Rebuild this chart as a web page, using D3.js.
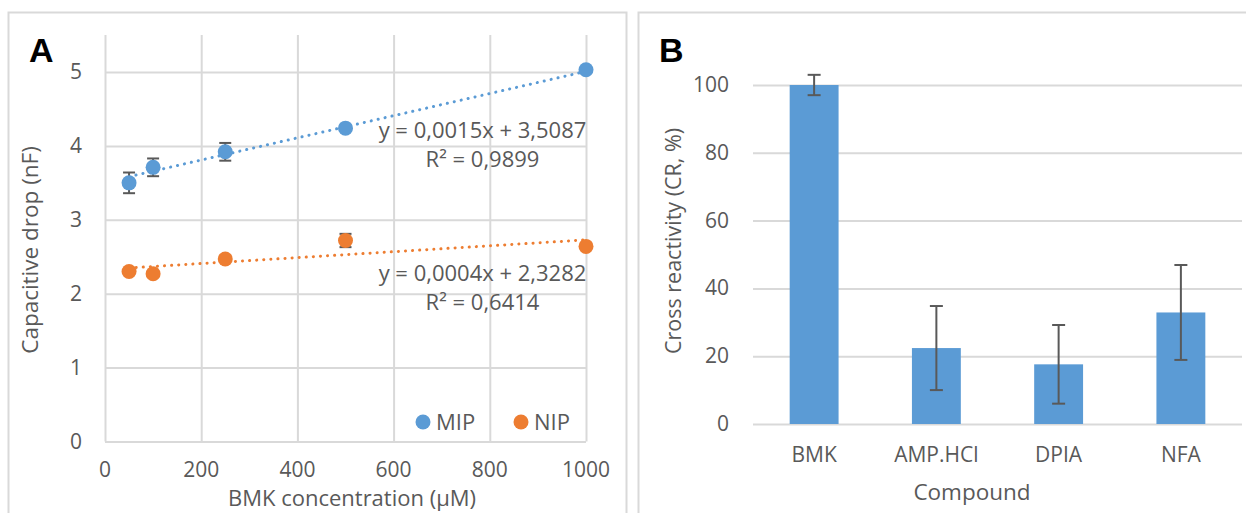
<!DOCTYPE html>
<html>
<head>
<meta charset="utf-8">
<script src="https://cdn.jsdelivr.net/npm/d3@7"></script>
<style>
  body { margin: 0; background: #fff; }
  text { font-family: "Open Sans", sans-serif; fill: #595959; }
</style>
</head>
<body>
<svg id="chart" width="1246" height="513"></svg>
<script>
// panel A: capacitive drop vs BMK concentration
const concentrations = [50, 100, 250, 500, 1000];
const mipValues = [3.50, 3.71, 3.92, 4.24, 5.03];
const mipErrors = [0.14, 0.12, 0.12, 0.03, 0.03];
const nipValues = [2.30, 2.27, 2.47, 2.72, 2.64];
const nipErrors = [0.03, 0.03, 0.03, 0.09, 0.03];
const mipFit = { slope: 0.0015, intercept: 3.5087, label: 'y = 0,0015x + 3,5087', r2: 'R² = 0,9899' };
const nipFit = { slope: 0.0004, intercept: 2.3282, label: 'y = 0,0004x + 2,3282', r2: 'R² = 0,6414' };
const xTicksA = [0, 200, 400, 600, 800, 1000];
const yTicksA = [0, 1, 2, 3, 4, 5];

// panel B: cross reactivity
const compounds = ['BMK', 'AMP.HCl', 'DPIA', 'NFA'];
const crossValues = [100, 22.4, 17.6, 32.9];
const crossErrors = [3, 12.4, 11.6, 14];
const yTicksB = [0, 20, 40, 60, 80, 100];

const BLUE = '#5B9BD5', ORANGE = '#ED7D31', GRID = '#D9D9D9', ERR = '#595959';
const TICK_FS = '21px', TITLE_FS = '22px';

const svg = d3.select('#chart');

// frames
svg.append('rect').attr('x', 8.5).attr('y', 12.5).attr('width', 618).attr('height', 520)
  .attr('fill', 'none').attr('stroke', GRID).attr('stroke-width', 2);
svg.append('rect').attr('x', 638.5).attr('y', 12.5).attr('width', 620).attr('height', 520)
  .attr('fill', 'none').attr('stroke', GRID).attr('stroke-width', 2);

// ---------- panel A ----------
const xA = d3.scaleLinear().domain([0, 1000]).range([105, 586]);
const yA = d3.scaleLinear().domain([0, 5]).range([441.5, 72]);
const topA = yA(5.5);

const gA = svg.append('g');

const xAxisA = gA.append('g').attr('transform', `translate(0,${topA})`)
  .call(d3.axisBottom(xA).tickValues(xTicksA).tickSize(yA(0) - topA).tickFormat(''));
xAxisA.selectAll('line').attr('stroke', GRID).attr('stroke-width', 2);
xAxisA.select('.domain').remove();

const yAxisA = gA.append('g').attr('transform', `translate(${xA(0)},0)`)
  .call(d3.axisRight(yA).tickValues(yTicksA).tickSize(xA(1000) - xA(0)).tickFormat(''));
yAxisA.selectAll('line').attr('stroke', GRID).attr('stroke-width', 2);
yAxisA.select('.domain').remove();

gA.selectAll('.ytA').data(yTicksA).enter().append('text')
  .attr('x', 82).attr('y', d => yA(d) + 7).attr('text-anchor', 'end')
  .style('font-size', TICK_FS).text(d => d);
gA.selectAll('.xtA').data(xTicksA).enter().append('text')
  .attr('x', d => xA(d)).attr('y', 476.5).attr('text-anchor', 'middle')
  .style('font-size', TICK_FS).text(d => d);

gA.append('text').attr('x', 352).attr('y', 506).attr('text-anchor', 'middle')
  .style('font-size', TITLE_FS).text('BMK concentration (µM)');
gA.append('text').attr('transform', 'translate(38,250) rotate(-90)').attr('text-anchor', 'middle')
  .style('font-size', '22.5px').text('Capacitive drop (nF)');

gA.append('text').attr('x', 29).attr('y', 62).style('font-family', 'Liberation Sans, Arial')
  .style('font-weight', 'bold').style('font-size', '34px').style('fill', '#000').text('A');

function drawSeries(values, errors, fit, color) {
  const g = gA.append('g');
  g.append('line')
    .attr('x1', xA(concentrations[0])).attr('y1', yA(fit.slope * concentrations[0] + fit.intercept))
    .attr('x2', xA(1000)).attr('y2', yA(fit.slope * 1000 + fit.intercept))
    .attr('stroke', color).attr('stroke-width', 3).attr('stroke-linecap', 'round')
    .attr('stroke-dasharray', '0.1 7');
  const pts = concentrations.map((c, i) => ({ x: c, y: values[i], e: errors[i] }));
  const eb = g.selectAll('.eb').data(pts).enter().append('g');
  eb.append('line').attr('x1', d => xA(d.x)).attr('x2', d => xA(d.x))
    .attr('y1', d => yA(d.y + d.e)).attr('y2', d => yA(d.y - d.e))
    .attr('stroke', ERR).attr('stroke-width', 2);
  [1, -1].forEach(s => {
    eb.append('line').attr('x1', d => xA(d.x) - 6).attr('x2', d => xA(d.x) + 6)
      .attr('y1', d => yA(d.y + s * d.e)).attr('y2', d => yA(d.y + s * d.e))
      .attr('stroke', ERR).attr('stroke-width', 2);
  });
  g.selectAll('circle').data(pts).enter().append('circle')
    .attr('cx', d => xA(d.x)).attr('cy', d => yA(d.y)).attr('r', 7.5).attr('fill', color);
}
drawSeries(mipValues, mipErrors, mipFit, BLUE);
drawSeries(nipValues, nipErrors, nipFit, ORANGE);

[[mipFit, 138], [nipFit, 281]].forEach(([fit, by]) => {
  gA.append('text').attr('x', 482.5).attr('y', by).attr('text-anchor', 'middle')
    .style('font-size', '22px').text(fit.label);
  gA.append('text').attr('x', 482.5).attr('y', by + 29).attr('text-anchor', 'middle')
    .style('font-size', '22px').text(fit.r2);
});

// legend
[['MIP', BLUE, 423], ['NIP', ORANGE, 521]].forEach(([name, color, cx]) => {
  gA.append('circle').attr('cx', cx).attr('cy', 422).attr('r', 7.5).attr('fill', color);
  gA.append('text').attr('x', cx + 13).attr('y', 429.5).style('font-size', '22px').text(name);
});

// ---------- panel B ----------
const xB = d3.scaleBand().domain(compounds).range([753, 1242]).paddingInner(0.6).paddingOuter(0.3);
const yB = d3.scaleLinear().domain([0, 100]).range([424, 85]);

const gB = svg.append('g');
const yAxisB = gB.append('g').attr('transform', 'translate(753,0)')
  .call(d3.axisRight(yB).tickValues(yTicksB).tickSize(1242 - 753).tickFormat(''));
yAxisB.selectAll('line').attr('stroke', GRID).attr('stroke-width', 2);
yAxisB.select('.domain').remove();

gB.selectAll('.ytB').data(yTicksB).enter().append('text')
  .attr('x', 729).attr('y', d => yB(d) + 7).attr('text-anchor', 'end')
  .style('font-size', TICK_FS).text(d => d);

const bars = compounds.map((c, i) => ({ c, v: crossValues[i], e: crossErrors[i] }));
gB.selectAll('.bar').data(bars).enter().append('rect')
  .attr('x', d => xB(d.c)).attr('width', xB.bandwidth())
  .attr('y', d => yB(d.v)).attr('height', d => yB(0) - yB(d.v))
  .attr('fill', BLUE);

const ebB = gB.selectAll('.ebB').data(bars).enter().append('g');
const cxB = d => xB(d.c) + xB.bandwidth() / 2;
ebB.append('line').attr('x1', cxB).attr('x2', cxB)
  .attr('y1', d => yB(d.v + d.e)).attr('y2', d => yB(d.v - d.e))
  .attr('stroke', ERR).attr('stroke-width', 2);
[1, -1].forEach(s => {
  ebB.append('line').attr('x1', d => cxB(d) - 6.5).attr('x2', d => cxB(d) + 6.5)
    .attr('y1', d => yB(d.v + s * d.e)).attr('y2', d => yB(d.v + s * d.e))
    .attr('stroke', ERR).attr('stroke-width', 2);
});

gB.selectAll('.xtB').data(compounds).enter().append('text')
  .attr('x', d => xB(d) + xB.bandwidth() / 2).attr('y', 462).attr('text-anchor', 'middle')
  .style('font-size', TICK_FS).text(d => d);

gB.append('text').attr('x', 972).attr('y', 500).attr('text-anchor', 'middle')
  .style('font-size', '22.5px').text('Compound');
gB.append('text').attr('transform', 'translate(681,241) rotate(-90)').attr('text-anchor', 'middle')
  .style('font-size', '21.5px').text('Cross reactivity (CR, %)');

gB.append('text').attr('x', 659).attr('y', 62).style('font-family', 'Liberation Sans, Arial')
  .style('font-weight', 'bold').style('font-size', '34px').style('fill', '#000').text('B');
</script>
</body>
</html>
